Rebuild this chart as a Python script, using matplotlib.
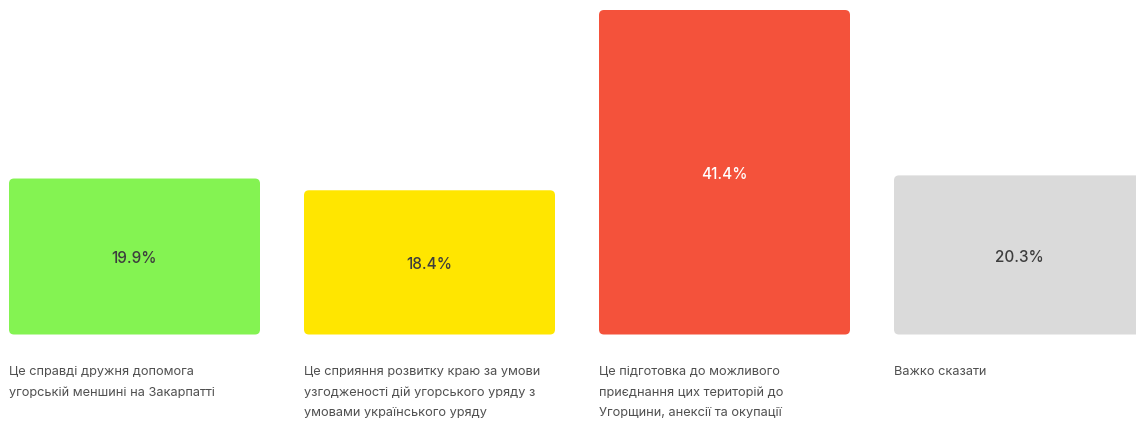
import matplotlib.pyplot as plt
from matplotlib.patches import FancyBboxPatch

# -------------------------------------
# Data
# -------------------------------------
categories = [
    'Це справді дружня допомога\nугорській меншині на Закарпатті',
    'Це сприяння розвитку краю за умови\nузгодженості дій угорського уряду з\nумовами українського уряду',
    'Це підготовка до можливого\nприєднання цих територій до\nУгорщини, анексії та окупації',
    'Важко сказати',
]
values = [19.9, 18.4, 41.4, 20.3]
colors = ['#84F352', '#FFE600', '#F4523B', '#DADADA']
value_colors = ['#3d3d3d', '#3d3d3d', '#ffffff', '#3d3d3d']

plt.rcParams['font.family'] = ['Inter', 'DejaVu Sans']

W, H = 1136, 421
fig = plt.figure(figsize=(W / 100, H / 100), dpi=100)
ax = fig.add_axes([0, 0, 1, 1])

# pixel geometry of the layout
step_px = 295.0
first_center_px = 134.5
bar_w = 251.0 / step_px
px_per_pct = 324.5 / 41.4
base_px = 421 - 334.5

ax.set_xlim(-first_center_px / step_px, (W - first_center_px) / step_px)
ax.set_ylim(-base_px / px_per_pct, (H - base_px) / px_per_pct)
ax.axis('off')

r_x = 5.0 / step_px
aspect = step_px / px_per_pct

for i, (val, col) in enumerate(zip(values, colors)):
    left = i - bar_w / 2
    box = FancyBboxPatch((left, 0), bar_w, val,
                         boxstyle=f'round,pad=0,rounding_size={r_x}',
                         mutation_aspect=aspect,
                         fc=col, ec='none')
    ax.add_patch(box)
    ax.annotate(f'{val}%', xy=(i, val / 2), xytext=(0, -1.5),
                textcoords='offset points', ha='center', va='center',
                fontsize=11, fontweight='medium', color=value_colors[i])
    ax.annotate(categories[i], xy=(left, 0), xytext=(0, -23),
                textcoords='offset points', ha='left', va='top',
                fontsize=9.2, color='#505050', linespacing=1.9)

fig.savefig('out.png', dpi=100)
